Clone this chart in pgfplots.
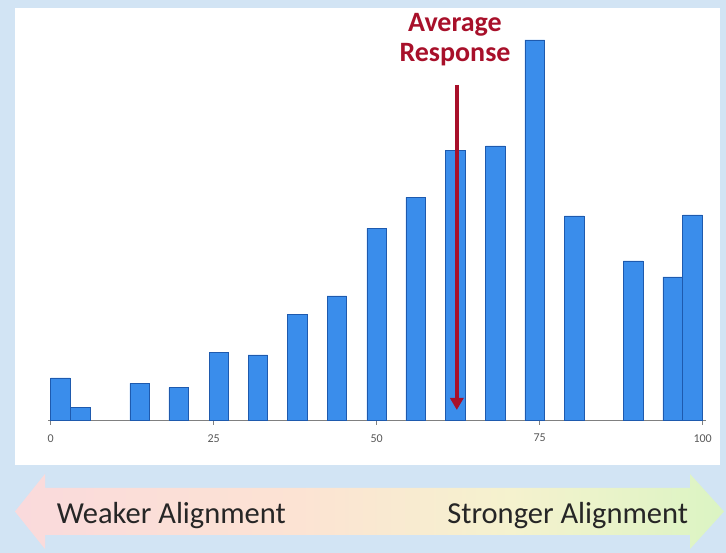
\documentclass[border=0pt]{standalone}
\usepackage{pgfplots}
\pgfplotsset{compat=1.18}
\usepackage{fontspec}
\setmainfont{Carlito}
\usetikzlibrary{arrows.meta}
\definecolor{bgblue}{HTML}{D2E4F4}
\definecolor{barfill}{HTML}{3A8DEB}
\definecolor{baredge}{HTML}{1E5AAE}
\definecolor{avgred}{HTML}{A8102A}
\definecolor{bandpink}{HTML}{FADADC}
\definecolor{bandpeach}{HTML}{FCE3D3}
\definecolor{bandyellow}{HTML}{F5F2CE}
\definecolor{bandgreen}{HTML}{DBF4C3}
\pgfdeclarehorizontalshading{band}{100bp}{color(0bp)=(bandpink); color(25bp)=(bandpink); color(45bp)=(bandpeach); color(60bp)=(bandyellow); color(75bp)=(bandgreen); color(100bp)=(bandgreen)}
\begin{document}
\begin{tikzpicture}[x=1pt,y=1pt]
\fill[bgblue] (0,0) rectangle (726,553);
\fill[white] (15,88) rectangle (720,545);
\shade[shading=band] (15,41.5) -- (45,79) -- (45,65) -- (690,65) -- (690,79) -- (724,41.5) -- (690,4) -- (690,18) -- (45,18) -- (45,4) -- cycle;
\begin{axis}[
  at={(48pt,132.3pt)}, anchor=south west,
  scale only axis, width=657.9pt, height=405.7pt,
  xmin=-0.4, xmax=100.5, ymin=0, ymax=405.7,
  axis x line*=bottom, axis y line=none,
  x axis line style={draw=gray, line width=1pt, -},
  xtick={0,25,50,75,100},
  tick align=outside, major tick length=4pt,
  tick style={gray, line width=0.8pt},
  xticklabel style={font=\fontsize{12}{12}\selectfont, text=black!65, yshift=-6pt},
  /pgf/number format/assume math mode=true,
  clip=false,
]
\addplot[ybar, bar width=3, fill=barfill, draw=baredge, line width=0.6pt] coordinates {
(1.5,42.7) (4.55,13) (13.65,37.4) (19.65,33) (25.8,68.4) (31.8,65.7)
(37.85,106.4) (43.9,124.7) (50.0,192.4) (56.0,223.4) (62.1,270) (68.2,274.7)
(74.25,380.7) (80.3,204.7) (89.35,159.7) (95.4,143.7) (98.45,205.7)
};
\addplot[sharp plot, avgred, line width=3.5pt, -{Triangle[length=12pt,width=13pt]}, forget plot] coordinates {(62.3,335.7) (62.3,10.7)};
\end{axis}
\node[anchor=base, inner sep=0, text=avgred, font=\bfseries\fontsize{28}{30}\selectfont] at (455,521.3) {Average};
\node[anchor=base, inner sep=0, text=avgred, font=\bfseries\fontsize{28}{30}\selectfont] at (455,491.3) {Response};
\node[anchor=base west, inner sep=0, text=black!85, font=\fontsize{30.5}{32}\selectfont] at (56.7,29.7) {Weaker Alignment};
\node[anchor=base east, inner sep=0, text=black!85, font=\fontsize{30.5}{32}\selectfont] at (688.3,29.7) {Stronger Alignment};
\end{tikzpicture}
\end{document}
